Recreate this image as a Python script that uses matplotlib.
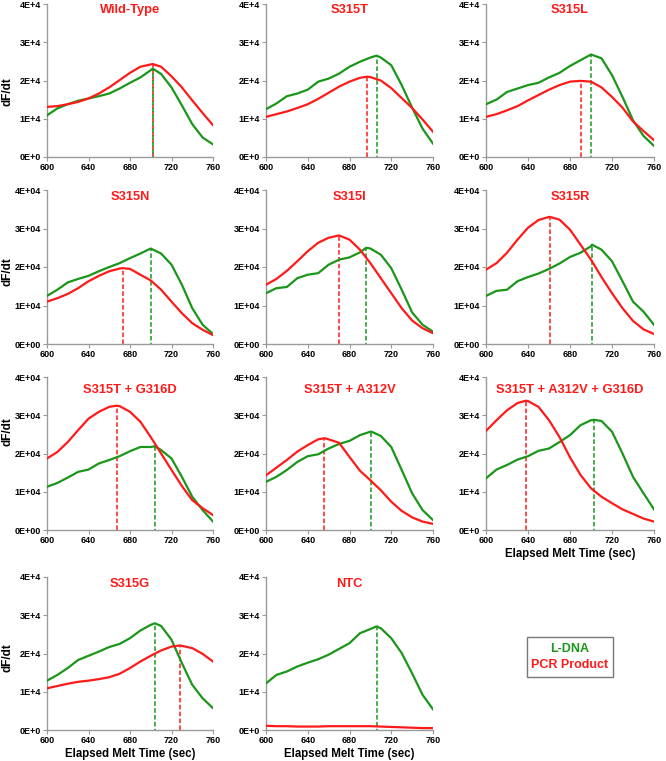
import matplotlib
matplotlib.use("Agg")
import matplotlib.pyplot as plt
from matplotlib.patches import Rectangle
import numpy as np

plt.rcParams['font.family'] = ['Liberation Sans', 'DejaVu Sans']
plt.rcParams['font.weight'] = 'bold'

time = [600, 610, 620, 630, 640, 650, 660, 670, 680, 690, 700, 710, 720, 730, 740, 750, 760]

titles = ["Wild-Type", "S315T", "S315L", "S315N", "S315I", "S315R",
          "S315T + G316D", "S315T + A312V", "S315T + A312V + G316D", "S315G", "NTC"]

# values in units of 1E4
wt_green = [1.09, 1.27, 1.38, 1.47, 1.53, 1.59, 1.66, 1.79, 1.94, 2.08, 2.27, 2.17, 1.82, 1.35, 0.86, 0.51, 0.33]
wt_red = [1.31, 1.33, 1.38, 1.44, 1.53, 1.66, 1.82, 2.01, 2.20, 2.36, 2.42, 2.36, 2.11, 1.82, 1.48, 1.15, 0.83]
s315t_green = [1.25, 1.40, 1.59, 1.66, 1.76, 1.97, 2.05, 2.18, 2.36, 2.49, 2.60, 2.60, 2.40, 1.88, 1.29, 0.74, 0.35]
s315t_red = [1.05, 1.12, 1.19, 1.28, 1.38, 1.52, 1.68, 1.84, 1.97, 2.07, 2.09, 2.00, 1.80, 1.54, 1.28, 0.98, 0.66]
s315l_green = [1.38, 1.50, 1.70, 1.79, 1.88, 1.94, 2.08, 2.20, 2.38, 2.53, 2.68, 2.58, 2.14, 1.57, 0.96, 0.55, 0.29]
s315l_red = [1.05, 1.12, 1.22, 1.33, 1.48, 1.62, 1.76, 1.88, 1.97, 1.99, 1.97, 1.82, 1.57, 1.29, 0.93, 0.68, 0.44]
s315n_green = [1.25, 1.41, 1.60, 1.69, 1.77, 1.89, 2.00, 2.10, 2.23, 2.35, 2.48, 2.35, 2.06, 1.54, 0.93, 0.50, 0.26]
s315n_red = [1.10, 1.19, 1.30, 1.45, 1.63, 1.77, 1.89, 1.96, 1.95, 1.80, 1.65, 1.41, 1.10, 0.80, 0.54, 0.37, 0.23]
s315i_green = [1.32, 1.45, 1.48, 1.71, 1.80, 1.84, 2.06, 2.19, 2.25, 2.38, 2.48, 2.32, 1.97, 1.41, 0.82, 0.50, 0.32]
s315i_red = [1.54, 1.69, 1.90, 2.15, 2.41, 2.63, 2.76, 2.82, 2.71, 2.45, 2.10, 1.71, 1.32, 0.93, 0.61, 0.41, 0.28]
s315r_green = [1.25, 1.38, 1.41, 1.63, 1.74, 1.83, 1.95, 2.09, 2.26, 2.37, 2.54, 2.45, 2.15, 1.63, 1.10, 0.84, 0.50]
s315r_red = [1.93, 2.10, 2.37, 2.71, 3.02, 3.22, 3.30, 3.23, 2.97, 2.58, 2.19, 1.74, 1.32, 0.93, 0.60, 0.38, 0.26]
tg_green = [1.13, 1.23, 1.37, 1.52, 1.58, 1.74, 1.83, 1.93, 2.06, 2.17, 2.17, 2.09, 1.87, 1.39, 0.87, 0.52, 0.22]
tg_red = [1.87, 2.04, 2.30, 2.61, 2.91, 3.09, 3.22, 3.24, 3.09, 2.83, 2.43, 2.00, 1.57, 1.15, 0.78, 0.57, 0.39]
ta_green = [1.26, 1.39, 1.57, 1.78, 1.93, 1.98, 2.13, 2.25, 2.33, 2.48, 2.57, 2.46, 2.17, 1.57, 0.96, 0.52, 0.26]
ta_red = [1.43, 1.63, 1.83, 2.05, 2.22, 2.37, 2.37, 2.28, 1.91, 1.55, 1.30, 1.04, 0.74, 0.50, 0.33, 0.22, 0.16]
tag_green = [1.35, 1.58, 1.70, 1.84, 1.93, 2.07, 2.13, 2.30, 2.48, 2.74, 2.87, 2.85, 2.57, 2.00, 1.39, 0.96, 0.54]
tag_red = [2.59, 2.87, 3.13, 3.32, 3.37, 3.22, 2.87, 2.43, 1.90, 1.44, 1.09, 0.87, 0.70, 0.54, 0.42, 0.30, 0.22]
s315g_green = [1.29, 1.44, 1.62, 1.83, 1.94, 2.05, 2.17, 2.25, 2.40, 2.60, 2.75, 2.72, 2.36, 1.75, 1.18, 0.83, 0.57]
s315g_red = [1.09, 1.15, 1.21, 1.26, 1.29, 1.33, 1.38, 1.47, 1.62, 1.79, 1.94, 2.08, 2.18, 2.20, 2.14, 1.99, 1.79]
ntc_green = [1.22, 1.44, 1.53, 1.66, 1.76, 1.85, 1.97, 2.12, 2.27, 2.53, 2.64, 2.66, 2.40, 2.01, 1.48, 0.92, 0.54]
ntc_red = [0.11, 0.10, 0.10, 0.09, 0.09, 0.09, 0.10, 0.10, 0.10, 0.10, 0.10, 0.09, 0.08, 0.07, 0.06, 0.05, 0.05]

greens = [wt_green, s315t_green, s315l_green, s315n_green, s315i_green, s315r_green,
          tg_green, ta_green, tag_green, s315g_green, ntc_green]
reds = [wt_red, s315t_red, s315l_red, s315n_red, s315i_red, s315r_red,
        tg_red, ta_red, tag_red, s315g_red, ntc_red]

# peak (time, value) for the dashed markers
green_peak_t = [702, 706, 700, 700, 696, 701, 704, 701, 703, 704, 706]
green_peak_v = [2.31, 2.65, 2.68, 2.48, 2.50, 2.58, 2.19, 2.57, 2.88, 2.79, 2.71]
red_peak_t = [702, 697, 690, 673, 670, 661, 667, 656, 638, 728, None]
red_peak_v = [2.43, 2.10, 1.99, 1.97, 2.82, 3.30, 3.25, 2.40, 3.38, 2.21, None]

ytick_vals = [0, 1, 2, 3, 4]
short_labels = ["0E+0", "1E+4", "2E+4", "3E+4", "4E+4"]
long_labels = ["0E+00", "1E+04", "2E+04", "3E+04", "4E+04"]
label_style = ["s", "s", "s", "l", "l", "l", "l", "l", "s", "s", "s"]
xtick_vals = [600, 640, 680, 720, 760]

GREEN = "#1a961a"
RED = "#ff1a1a"
GRAY = "#9a9a9a"

W, H = 666, 761
fig = plt.figure(figsize=(W / 100, H / 100), dpi=100)

col_px = [(47, 213), (266, 433), (486, 654)]
row_px = [(4, 157), (190, 344), (377, 530), (577, 730)]
title_off = [6, 7, 13, 7]
ylab_frac = [0.43, 0.47, 0.64, 0.47]


def merge(t, v, pt, pv):
    pts = dict(zip(t, v))
    if pt is not None:
        pts[pt] = pv
    ks = sorted(pts)
    return ks, [pts[k] for k in ks]


for i in range(11):
    r, c = divmod(i, 3)
    x0, x1 = col_px[c]
    y0, y1 = row_px[r]
    ax = fig.add_axes([x0 / W, 1 - y1 / H, (x1 - x0) / W, (y1 - y0) / H])
    gx, gy = merge(time, greens[i], green_peak_t[i], green_peak_v[i])
    rx, ry = merge(time, reds[i], red_peak_t[i], red_peak_v[i])
    ax.plot(gx, gy, color=GREEN, lw=1.6, zorder=3, solid_joinstyle='round')
    ax.plot(rx, ry, color=RED, lw=1.6, zorder=4, solid_joinstyle='round')
    if red_peak_t[i] is not None:
        ax.vlines(red_peak_t[i], 0, red_peak_v[i], colors=RED, lw=1.1,
                  linestyles=(0, (3, 1.5)), zorder=2)
    ax.vlines(green_peak_t[i], 0, green_peak_v[i], colors=GREEN, lw=1.1,
              linestyles=(2.2, (3, 1.5)), zorder=2.5)
    ax.set_xlim(600, 760)
    ax.set_ylim(0, 4)
    ax.set_xticks(xtick_vals)
    ax.set_xticklabels([str(v) for v in xtick_vals])
    ax.set_yticks(ytick_vals)
    ax.set_yticklabels(short_labels if label_style[i] == "s" else long_labels)
    for s in ["top", "right"]:
        ax.spines[s].set_visible(False)
    for s in ["left", "bottom"]:
        ax.spines[s].set_color(GRAY)
        ax.spines[s].set_linewidth(1.0)
    ax.tick_params(axis='both', colors=GRAY, length=3, width=0.8,
                   labelsize=6.5, labelcolor='black', pad=1.5)
    for lab in ax.get_xticklabels() + ax.get_yticklabels():
        lab.set_fontweight('bold')
    ax.text(0.5, 1 - title_off[r] / (y1 - y0), titles[i], transform=ax.transAxes,
            ha='center', va='center', color=RED, fontsize=9.3, fontweight='bold')
    if c == 0:
        ax.set_ylabel("dF/dt", fontsize=8.5, fontweight='bold')
        ax.yaxis.set_label_coords(-34 / (x1 - x0), ylab_frac[r])
    if i >= 8:
        ax.set_xlabel("Elapsed Melt Time (sec)", fontsize=8.3, fontweight='bold', labelpad=2)

# legend box
fig.add_artist(Rectangle((527 / W, 1 - 677 / H), 86 / W, 40 / H, transform=fig.transFigure,
                         facecolor='white', edgecolor='#777777', lw=1.0))
fig.text(570 / W, 1 - 649 / H, "L-DNA", color=GREEN, ha='center', va='center',
         fontsize=9, fontweight='bold')
fig.text(570 / W, 1 - 665 / H, "PCR Product", color=RED, ha='center', va='center',
         fontsize=9, fontweight='bold')

fig.savefig("out.png", dpi=100)
